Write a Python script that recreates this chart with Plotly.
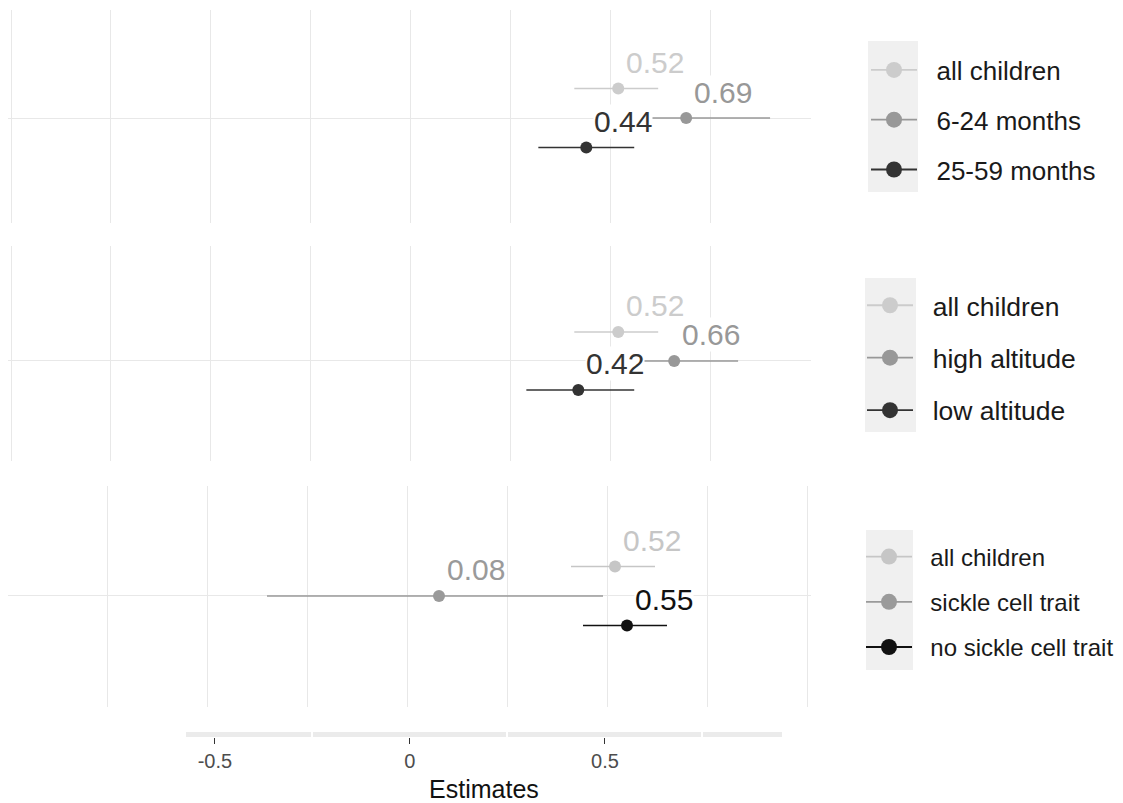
import plotly.graph_objects as go

W, H = 1123, 803

# ---------------- data ----------------
p1_labels = ["all children", "6-24 months", "25-59 months"]
p1_est = [0.52, 0.69, 0.44]
p1_lo = [0.41, 0.48, 0.32]
p1_hi = [0.62, 0.90, 0.56]

p2_labels = ["all children", "high altitude", "low altitude"]
p2_est = [0.52, 0.66, 0.42]
p2_lo = [0.41, 0.50, 0.29]
p2_hi = [0.62, 0.82, 0.56]

p3_labels = ["all children", "sickle cell trait", "no sickle cell trait"]
p3_est = [0.52, 0.08, 0.55]
p3_lo = [0.41, -0.35, 0.44]
p3_hi = [0.62, 0.49, 0.65]

grid_x = [-1.0, -0.75, -0.5, -0.25, 0.0, 0.25, 0.5, 0.75, 1.0]
axis_tickvals = [-0.5, 0.0, 0.5]
axis_ticktext = ["-0.5", "0", "0.5"]
axis_minor = [-0.25, 0.25, 0.75]

# ---------------- style ----------------
FONT = "Liberation Sans, Arial, sans-serif"
colors_a = ["#cccccc", "#989898", "#333333"]
colors_b = ["#c6c6c6", "#9a9a9a", "#111111"]
dodge = [1 / 6, 0.0, -1 / 6]
GRID = "#e8e8e8"
PAD = "\u00a0\u00a0"


def fx(px):
    return px / W


def fy(px):
    return 1 - px / H


panels = [
    dict(labels=p1_labels, est=p1_est, lo=p1_lo, hi=p1_hi, colors=colors_a,
         ydom=(223, 10), yrange=[0.407, 1.610], xrange=[-1.0075, 1.0025],
         legend="legend", lfont=26, lgap=13, lcenter=120, lx=866,
         box=(868, 918, 41, 192)),
    dict(labels=p2_labels, est=p2_est, lo=p2_lo, hi=p2_hi, colors=colors_a,
         ydom=(461, 246), yrange=[0.425, 1.661], xrange=[-1.0075, 1.0025],
         legend="legend2", lfont=26.5, lgap=15, lcenter=358, lx=862,
         box=(865, 916, 278, 432)),
    dict(labels=p3_labels, est=p3_est, lo=p3_lo, hi=p3_hi, colors=colors_b,
         ydom=(707, 486), yrange=[0.373, 1.621], xrange=[-0.9975, 1.01],
         legend="legend3", lfont=24, lgap=11, lcenter=602, lx=861,
         box=(866, 913, 530, 670)),
]

fig = go.Figure()
annotations = []
shapes = []
layout = {}

for k, p in enumerate(panels, start=1):
    xa = "x" if k == 1 else f"x{k}"
    ya = "y" if k == 1 else f"y{k}"
    for i, lab in enumerate(p["labels"]):
        e = p["est"][i]
        yv = 1 + dodge[i]
        c = p["colors"][i]
        fig.add_trace(go.Scatter(
            x=[e], y=[yv], xaxis=xa, yaxis=ya, mode="markers",
            marker=dict(size=12, color=c),
            error_x=dict(type="data", symmetric=False,
                         array=[p["hi"][i] - e], arrayminus=[e - p["lo"][i]],
                         color=c, thickness=1.4, width=0),
            showlegend=False, hoverinfo="skip"))
        # legend entry
        fig.add_trace(go.Scatter(
            x=[None], y=[None], xaxis=xa, yaxis=ya, mode="lines+markers",
            name=PAD + lab, legend=p["legend"], legendgroup=f"g{k}{i}",
            marker=dict(size=16, color=c), line=dict(color=c, width=1.8)))
        annotations.append(dict(
            x=e, y=yv, xref=xa, yref=ya, text=f"{e:.2f}", showarrow=False,
            xshift=37, yshift=26, font=dict(family=FONT, size=30, color=c),
            bgcolor="white", borderpad=0))
    axname = "xaxis" if k == 1 else f"xaxis{k}"
    ayname = "yaxis" if k == 1 else f"yaxis{k}"
    layout[axname] = dict(domain=[fx(8), fx(811)], range=p["xrange"],
                          anchor=ya, tickmode="array", tickvals=grid_x,
                          showticklabels=False, ticks="", showgrid=True,
                          gridcolor=GRID, gridwidth=1.2, zeroline=False,
                          showline=False, fixedrange=True)
    layout[ayname] = dict(domain=[fy(p["ydom"][0]), fy(p["ydom"][1])],
                          range=p["yrange"], anchor=xa, tickmode="array",
                          tickvals=[1], showticklabels=False, ticks="",
                          showgrid=True, gridcolor=GRID, gridwidth=1.2,
                          zeroline=False, showline=False, fixedrange=True)
    bx0, bx1, by0, by1 = p["box"]
    shapes.append(dict(type="rect", xref="paper", yref="paper",
                       x0=fx(bx0), x1=fx(bx1), y0=fy(by1), y1=fy(by0),
                       fillcolor="#f0f0f0", line=dict(width=0), layer="below"))
    layout[p["legend"]] = dict(
        x=fx(p["lx"]), y=fy(p["lcenter"]), xanchor="left", yanchor="middle",
        bgcolor="rgba(0,0,0,0)", borderwidth=0, itemwidth=46,
        traceorder="grouped", tracegroupgap=p["lgap"],
        font=dict(family=FONT, size=p["lfont"], color="#1a1a1a"),
        itemclick=False, itemdoubleclick=False)

# bottom shared axis strip
fig.add_trace(go.Scatter(x=[None], y=[None], xaxis="x4", yaxis="y4",
                         showlegend=False, hoverinfo="skip"))
layout["xaxis4"] = dict(
    domain=[fx(186), fx(782)], range=[-0.574, 0.954], anchor="y4",
    tickmode="array", tickvals=axis_tickvals, ticktext=axis_ticktext,
    ticks="outside", ticklen=6, tickwidth=1.4, tickcolor="#333333",
    tickfont=dict(family=FONT, size=20, color="#4d4d4d"),
    showgrid=False, zeroline=False, showline=False, fixedrange=True,
    minor=dict(tickmode="array", tickvals=axis_minor, showgrid=True,
               gridcolor="white", gridwidth=2, ticks=""),
    title=dict(text="Estimates", font=dict(family=FONT, size=25, color="#111111"),
               standoff=9))
layout["yaxis4"] = dict(domain=[fy(737), fy(732)], range=[0, 1], anchor="x4",
                        visible=False, fixedrange=True)
shapes.append(dict(type="rect", xref="x4 domain", yref="y4 domain",
                   x0=0, x1=1, y0=0, y1=1, fillcolor="#ebebeb",
                   line=dict(width=0), layer="below"))

fig.update_layout(
    width=W, height=H, margin=dict(l=0, r=0, t=0, b=0),
    paper_bgcolor="white", plot_bgcolor="rgba(0,0,0,0)",
    font=dict(family=FONT), annotations=annotations, shapes=shapes,
    hovermode=False, **layout)

fig.write_html("out.html", config=dict(displayModeBar=False),
               post_script="document.body.style.margin='0';document.body.style.overflow='hidden';")
